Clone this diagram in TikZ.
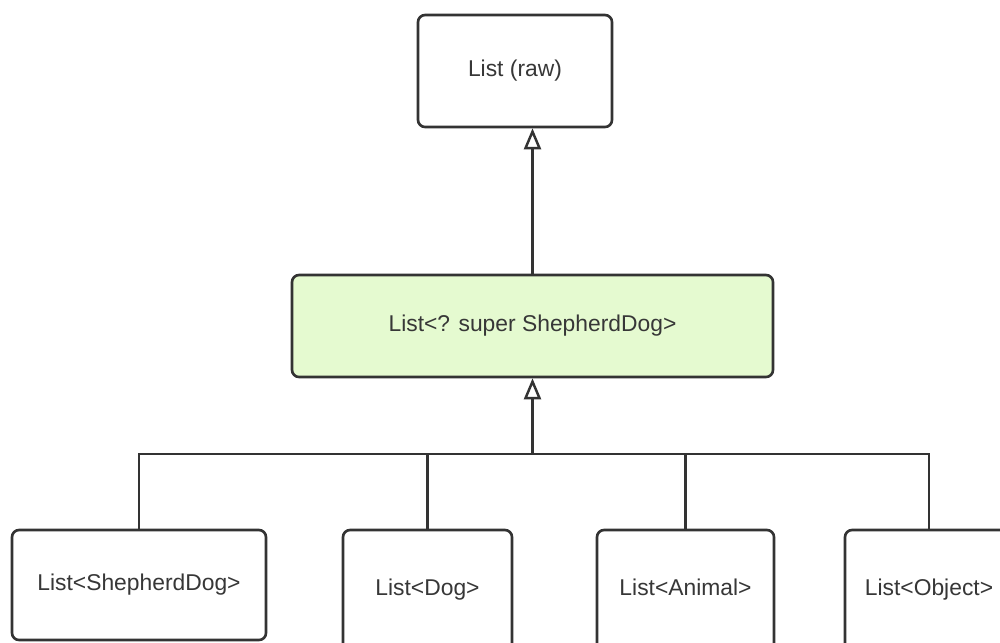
\documentclass[tikz,border=0pt]{standalone}
\usepackage{fontspec}
\setmainfont{Liberation Sans}
\usetikzlibrary{arrows.meta}
\definecolor{linegray}{RGB}{51,51,51}
\definecolor{textgray}{RGB}{55,55,55}
\definecolor{palegreen}{RGB}{229,250,208}
\begin{document}
\begin{tikzpicture}[font=\fontsize{13}{15}\selectfont,line width=1.4pt,
  box/.style={draw=linegray,rounded corners=4pt,align=center,
              text=textgray,fill=white,line width=1.5pt,
              text height=0.72em,text depth=0.1em},
  tri/.style={-{Triangle[open,length=0.42cm,width=0.34cm]},draw=linegray}]
  \useasboundingbox (0,0) rectangle (20,-12.84);
  \clip (0,0) rectangle (20,-12.84);
  \node[box,minimum width=3.88cm,minimum height=2.24cm] (raw) at (10.30,-1.42)
    {List (raw)};
  \node[box,fill=palegreen,minimum width=9.62cm,minimum height=2.04cm] (sup) at (10.65,-6.52)
    {List<? super ShepherdDog>};
  \node[box,minimum width=5.08cm,minimum height=2.20cm] (b1) at (2.78,-11.70)
    {List<ShepherdDog>};
  \node[box,minimum width=3.38cm,minimum height=2.40cm] (b2) at (8.55,-11.80)
    {List<Dog>};
  \node[box,minimum width=3.54cm,minimum height=2.40cm] (b3) at (13.71,-11.80)
    {List<Animal>};
  \node[box,minimum width=3.36cm,minimum height=2.40cm] (b4) at (18.58,-11.80)
    {List<Object>};
  \coordinate (bus) at (10.65,-9.08);
  \draw[tri] (sup.north) -- (sup.north |- raw.south);
  \draw[tri] (bus) -- (sup.south);
  \draw[linegray] (b1.north) |- (b4.north |- bus) -- (b4.north);
  \draw[linegray] (b2.north) -- (b2.north |- bus);
  \draw[linegray] (b3.north) -- (b3.north |- bus);
\end{tikzpicture}
\end{document}
